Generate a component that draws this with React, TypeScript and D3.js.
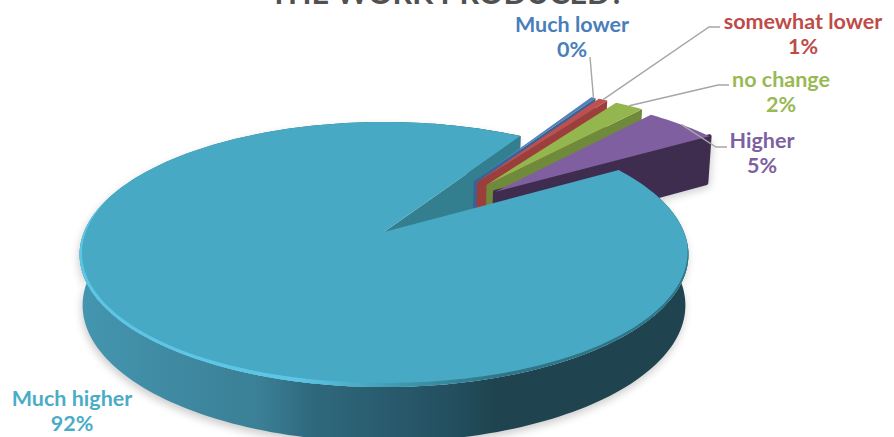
import React from "react";
import * as d3 from "d3";

// Survey answers, listed clockwise from the first slice
const categories = ["Much lower", "somewhat lower", "no change", "Higher", "Much higher"];
const shares = [0.3, 0.6, 1.9, 4.7, 92.4];
const labelColors = ["#4a7ebb", "#be4b48", "#98b954", "#7d60a0", "#4bacc6"];
const topColors = ["#4f81bd", "#c0504d", "#94b64e", "#7f5f9f", "#47a9c3"];
const wallColors = ["#3b6295", "#9c3f3c", "#6f8a3a", "#3f2d4f", "#337f90"];
const titleText = "THE WORK PRODUCED?";

// Label placement: text centre, first baseline, and the elbow of the leader line
const labelCentres = [572, 803, 781, 762, 72];
const labelBaselines = [32, 29, 87, 148, 406];
const leaderElbows: ([number, number, number] | null)[] = [
  [590, 57, 590],
  [720, 27, 709],
  [729, 85, 718],
  [727, 147, 716],
  null,
];

const WIDTH = 894;
const HEIGHT = 437;

// Perspective view of the pie plane: unit circle in, screen position out
const APEX_X = 384;
const APEX_Y = 232;
const SCALE_X = 300;
const SCALE_Y = 128.7;
const TILT = 0.17;
const DEPTH = 50;
const EXPLODE = 0.51;
const BOTTOM_SHRINK = 0.99;
const START_ANGLE = (31.4 * Math.PI) / 180;
// The three thin slices sit slightly clear of the main slice's cut face
const THIN_SLICE_SHIFT: Pt = [0.05, -0.012];

type Pt = [number, number];

function project(px: number, py: number, lower = false): Pt {
  const w = 1 + TILT * py;
  const x = (SCALE_X * px) / w;
  const y = (-SCALE_Y * py) / w;
  if (!lower) return [APEX_X + x, APEX_Y + y];
  return [APEX_X + x * BOTTOM_SHRINK, APEX_Y + y + DEPTH / Math.sqrt(w)];
}

const lineGen = d3.line<Pt>();

function arcPoints(a0: number, a1: number, ox: number, oy: number, lower = false): Pt[] {
  return d3
    .range(0, 1.0001, 1 / Math.max(6, Math.ceil(Math.abs(a1 - a0) * 40)))
    .map((t) => {
      const a = a0 + (a1 - a0) * t;
      return project(ox + Math.sin(a), oy + Math.cos(a), lower);
    });
}

const pieLayout = d3
  .pie<number>()
  .sort(null)
  .startAngle(START_ANGLE)
  .endAngle(START_ANGLE + 2 * Math.PI);

const slices = pieLayout(shares).map((arc, i) => {
  const isMain = i === categories.length - 1;
  const bisector = (arc.startAngle + arc.endAngle) / 2;
  const thin = i < 3;
  const ox = isMain ? 0 : EXPLODE * Math.sin(bisector) + (thin ? THIN_SLICE_SHIFT[0] : 0);
  const oy = isMain ? 0 : EXPLODE * Math.cos(bisector) + (thin ? THIN_SLICE_SHIFT[1] : 0);
  const apex = project(ox, oy);
  const apexLow = project(ox, oy, true);
  const rim = arcPoints(arc.startAngle, arc.endAngle, ox, oy);
  const rimLow = arcPoints(arc.startAngle, arc.endAngle, ox, oy, true);
  const top = lineGen([apex, ...rim])! + "Z";
  const endTop = rim[rim.length - 1];
  const endLow = rimLow[rimLow.length - 1];
  const wall = lineGen([apex, endTop, endLow, apexLow])! + "Z";
  const side = lineGen([...rim, ...rimLow.slice().reverse()])! + "Z";
  const anchor = project(ox + Math.sin(bisector), oy + Math.cos(bisector));
  return { i, isMain, top, wall, side, anchor, arc };
});

const main = slices[slices.length - 1];
const smallSlices = slices.slice(0, -1);

// Front edge of the main slice: a highlight crescent that tapers out at both ends
const bevelOuter = arcPoints((95 * Math.PI) / 180, (285 * Math.PI) / 180, 0, 0);
const bevelInner = bevelOuter.map(([x, y], k): Pt => {
  const t = Math.sin((Math.PI * k) / (bevelOuter.length - 1));
  const inset = 4.2 * Math.pow(t, 0.6);
  const dx = APEX_X - x;
  const dy = APEX_Y - y;
  const len = Math.hypot(dx, dy);
  return [x + (dx / len) * inset, y + (dy / len) * inset];
});
const bevelPath = lineGen([...bevelOuter, ...bevelInner.slice().reverse()])! + "Z";

const sideStops: [number, string][] = [
  [0, "#4496b0"],
  [0.3, "#3a7f95"],
  [0.38, "#2f697e"],
  [0.62, "#234e5e"],
  [0.68, "#1f444f"],
  [1, "#1f444f"],
];
const bevelStops: [number, string][] = [
  [0, "#5cc6e6"],
  [0.36, "#5cc6e6"],
  [0.43, "#4fb4d0"],
  [0.53, "#3f97ad"],
  [0.69, "#2f7487"],
  [1, "#2f7487"],
];

export default function App() {
  const total = d3.sum(shares);
  return (
    <svg
      width={WIDTH}
      height={HEIGHT}
      viewBox={`0 0 ${WIDTH} ${HEIGHT}`}
      style={{ position: "fixed", left: 0, top: 0, background: "#fff" }}
      fontFamily="Lato, 'Open Sans', sans-serif"
      fontWeight={700}
    >
      <defs>
        <linearGradient id="sideFill" gradientUnits="userSpaceOnUse" x1={78} x2={690} y1={0} y2={0}>
          {sideStops.map(([o, c]) => (
            <stop key={o} offset={o} stopColor={c} />
          ))}
        </linearGradient>
        <linearGradient id="bevelFill" gradientUnits="userSpaceOnUse" x1={78} x2={690} y1={0} y2={0}>
          {bevelStops.map(([o, c]) => (
            <stop key={o} offset={o} stopColor={c} />
          ))}
        </linearGradient>
        <filter id="softShadow" x="-10%" y="-10%" width="120%" height="120%">
          <feGaussianBlur stdDeviation={4} />
        </filter>
        <filter id="softEdge" x="-5%" y="-5%" width="110%" height="110%">
          <feGaussianBlur stdDeviation={0.7} />
        </filter>
      </defs>

      <text x={447} y={4} textAnchor="middle" fontSize={30.5} fill="#505050">
        {titleText}
      </text>

      {/* Soft ground shadow */}
      <g fill="#000" opacity={0.2} filter="url(#softShadow)">
        <path d={main.side} transform="translate(-1 4)" />
        <path d={smallSlices[3].wall} transform="translate(3 4)" />
      </g>

      {/* Outer wall and cut face of the main slice, behind the pulled-out slices */}
      <path d={main.side} fill="url(#sideFill)" />
      <path d={main.wall} fill={wallColors[4]} />

      {smallSlices.map((s) => (
        <g key={categories[s.i]}>
          <path
            d={s.wall}
            fill={wallColors[s.i]}
            stroke={wallColors[s.i]}
            strokeWidth={s.i === 3 ? 4 : 0}
            strokeLinejoin="round"
          />
          <path d={s.top} fill={topColors[s.i]} />
        </g>
      ))}

      {/* Main slice top face, in front of everything else */}
      <path d={main.top} fill={topColors[4]} />
      <path d={bevelPath} fill="url(#bevelFill)" filter="url(#softEdge)" />

      {/* Leader lines */}
      <g fill="none" stroke="#a6a6a6" strokeWidth={1.4}>
        {slices.map((s) => {
          const e = leaderElbows[s.i];
          if (!e) return null;
          const pts: Pt[] = [[e[0], e[1]], [e[2], e[1]], s.anchor];
          return <path key={categories[s.i]} d={lineGen(pts)!} />;
        })}
      </g>

      {/* Category and percentage labels */}
      {categories.map((c, i) => (
        <text key={c} textAnchor="middle" fontSize={21.5} fill={labelColors[i]}>
          <tspan x={labelCentres[i]} y={labelBaselines[i]}>
            {c}
          </tspan>
          <tspan x={labelCentres[i]} y={labelBaselines[i] + 25}>
            {d3.format(".0%")(shares[i] / total)}
          </tspan>
        </text>
      ))}
    </svg>
  );
}
